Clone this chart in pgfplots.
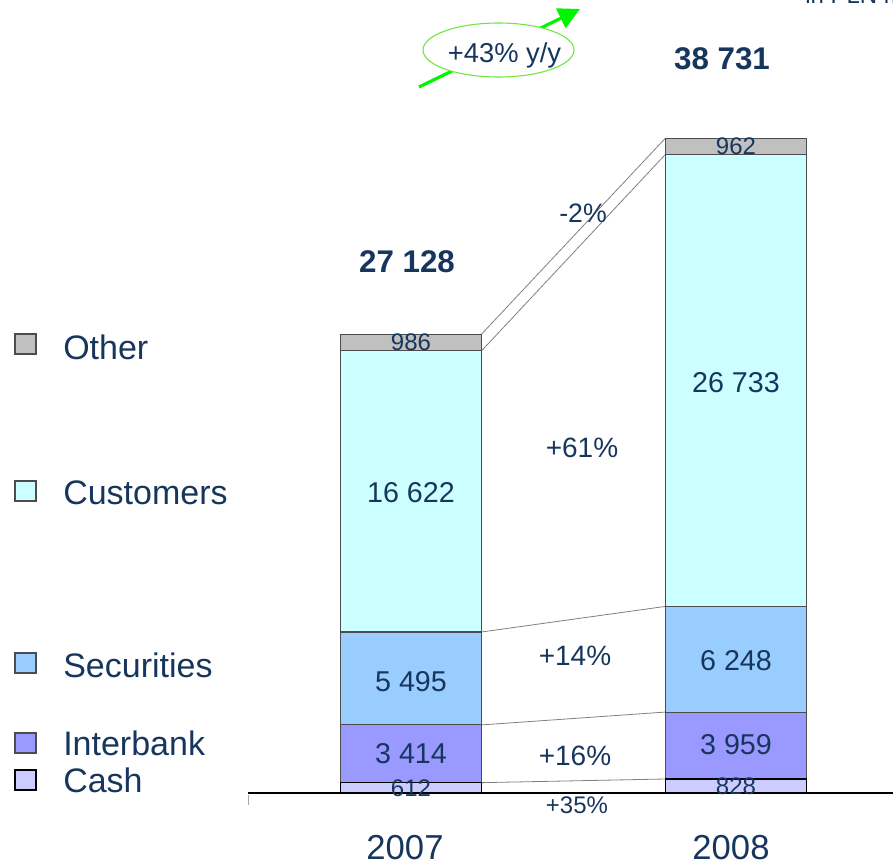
\documentclass[border=0pt]{standalone}
\usepackage{pgfplots}
\pgfplotsset{compat=1.18}
\usepackage{fontspec}
\setmainfont{Liberation Sans}
\usetikzlibrary{arrows.meta}
\definecolor{txt}{RGB}{23,54,93}
\definecolor{cOther}{RGB}{192,192,192}
\definecolor{cCust}{RGB}{204,255,255}
\definecolor{cSec}{RGB}{153,204,255}
\definecolor{cInter}{RGB}{153,153,255}
\definecolor{cCash}{RGB}{204,204,255}
\definecolor{agreen}{RGB}{0,245,0}
\definecolor{egreen}{RGB}{110,230,60}
\newcommand\fs[1]{\fontsize{#1}{#1}\selectfont}
\begin{document}
\begin{tikzpicture}
\path[use as bounding box, clip] (0,0) rectangle (669.75pt,-650.25pt);
\begin{axis}[at={(186pt,-594.75pt)}, anchor=south west, scale only axis,
  width=483.75pt, height=570.75pt,
  xmin=-0.5015, xmax=1.4831, ymin=0, ymax=45000,
  ybar stacked, bar width=0.4338,
  axis y line=none, axis x line=bottom,
  axis line style={-, black, line width=0.8pt},
  xtick=\empty, ytick=\empty, clip=false,
  every axis plot/.append style={draw=black!70, line width=0.8pt}]
\addplot[fill=cCash, draw=black, line width=1.1pt] coordinates {(0,612) (1,828)};
\addplot[fill=cInter] coordinates {(0,3414) (1,3959)};
\addplot[fill=cSec] coordinates {(0,5495) (1,6248)};
\addplot[fill=cCust] coordinates {(0,16622) (1,26733)};
\addplot[fill=cOther] coordinates {(0,986) (1,962)};
\draw[gray, line width=0.6pt] (axis cs:0.2169,612) -- (axis cs:0.7831,828);
\draw[gray, line width=0.6pt] (axis cs:0.2169,4026) -- (axis cs:0.7831,4787);
\draw[gray, line width=0.6pt] (axis cs:0.2169,9521) -- (axis cs:0.7831,11035);
\draw[gray, line width=0.6pt] (axis cs:0.2169,26143) -- (axis cs:0.7831,37768);
\draw[gray, line width=0.6pt] (axis cs:0.2169,27129) -- (axis cs:0.7831,38730);
\end{axis}
\begin{scope}[x=0.75pt, y=-0.75pt]
  % small tick
  \draw[gray!70, line width=0.6pt] (248,795) -- (248,805);
  % unit text (cut off at top, as in the original)
  \node[anchor=base west, text=txt, font=\fs{18pt}, inner sep=0] at (805,4) {in PLN m};
  % green arrow and ellipse
  \draw[agreen, line width=2.4pt, -{Triangle[length=16pt, width=16pt]}] (419,87) -- (580,9);
  \draw[egreen, fill=white, line width=0.8pt] (498.5,50) ellipse [x radius=75.5, y radius=27];
  \node[anchor=base, text=txt, font=\fs{20.5pt}, inner sep=0] at (504.5,63) {+43\% y/y};
  % totals
  \node[anchor=base, text=txt, font=\fs{23.5pt}\bfseries, inner sep=0] at (407,272) {27 128};
  \node[anchor=base, text=txt, font=\fs{23.5pt}\bfseries, inner sep=0] at (722,70) {38 731};
  % segment labels
  \begin{scope}[every node/.style={anchor=base, text=txt, inner sep=0, font=\fs{21.5pt}}]
    \node at (411,502) {16 622};
    \node at (411,691) {5 495};
    \node at (411,763) {3 414};
    \node at (736,392) {26 733};
    \node at (736,670) {6 248};
    \node at (736,754) {3 959};
  \end{scope}
  \begin{scope}[every node/.style={anchor=base, text=txt, inner sep=0, font=\fs{18pt}}]
    \node at (411,796) {612};
    \node at (736,794) {828};
    \node at (411,350.5) {986};
    \node at (736,154.5) {962};
    \node at (577,813) {+35\%};
  \end{scope}
  % growth labels
  \begin{scope}[every node/.style={anchor=base, text=txt, inner sep=0, font=\fs{21pt}}]
    \node at (582,457) {+61\%};
    \node at (575,665) {+14\%};
    \node at (575,765) {+16\%};
    \node[font=\fs{20pt}] at (583,222) {-2\%};
  \end{scope}
  % years
  \node[anchor=base, text=txt, font=\fs{26pt}, inner sep=0] at (405,859) {2007};
  \node[anchor=base, text=txt, font=\fs{26pt}, inner sep=0] at (731,859) {2008};
  % legend
  \begin{scope}[every node/.style={anchor=base west, text=txt, inner sep=0, font=\fs{25.5pt}}]
    \draw[black!70, fill=cOther, line width=0.8pt] (15,334) rectangle (36,354);
    \node at (63,359) {Other};
    \draw[black!70, fill=cCust, line width=0.8pt] (15,481) rectangle (36,501);
    \node at (63,504) {Customers};
    \draw[black!70, fill=cSec, line width=0.8pt] (15,653) rectangle (36,673);
    \node at (63,677) {Securities};
    \draw[black!70, fill=cInter, line width=0.8pt] (15,733) rectangle (36,753);
    \node at (63,755) {Interbank};
    \draw[black, fill=cCash, line width=1.1pt] (15,770) rectangle (36,790);
    \node at (63,792) {Cash};
  \end{scope}
\end{scope}
\end{tikzpicture}
\end{document}
